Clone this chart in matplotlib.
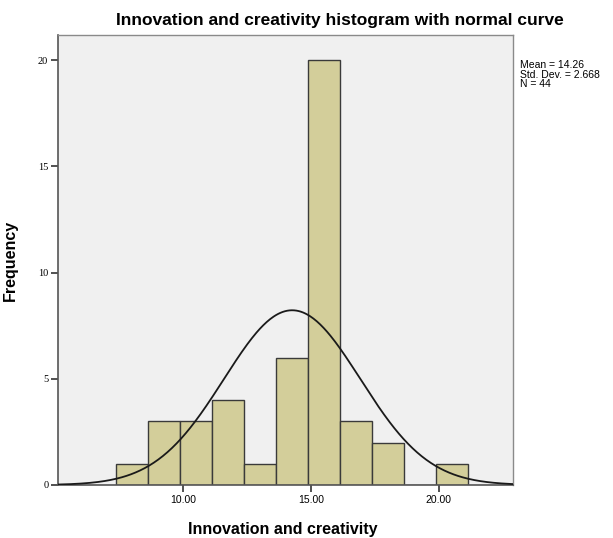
import numpy as np
import matplotlib
matplotlib.use("Agg")
import matplotlib.pyplot as plt

# Histogram bins (left edge of first bin and common width) and counts
bin_start = 7.375
bin_width = 1.25
counts = [1, 3, 3, 4, 1, 6, 20, 3, 2, 0, 1]

mean = 14.26
std_dev = 2.668
n_obs = 44

x_ticks = [10, 15, 20]
x_tick_labels = ["10.00", "15.00", "20.00"]
y_ticks = [0, 5, 10, 15, 20]

fig = plt.figure(figsize=(6.13, 5.38), dpi=100)
fig.patch.set_facecolor("white")
ax = fig.add_axes([58 / 613, 53 / 538, 455 / 613, 450 / 538])
ax.set_facecolor("#f0f0f0")

edges = bin_start + bin_width * np.arange(len(counts))
ax.bar(edges, counts, width=bin_width, align="edge",
       color="#d3ce9a", edgecolor="#3a3a3a", linewidth=1.0, zorder=2)

# Normal curve scaled to the histogram's counts
xs = np.linspace(5.1, 22.9, 400)
ys = n_obs * bin_width / (std_dev * np.sqrt(2 * np.pi)) * np.exp(-0.5 * ((xs - mean) / std_dev) ** 2)
ax.plot(xs, ys, color="#1a1a1a", linewidth=1.3, zorder=3)

ax.set_xlim(5.1, 22.9)
ax.set_ylim(0, 21.18)

ax.set_xticks(x_ticks)
ax.set_xticklabels(x_tick_labels, fontsize=7.5, family="Liberation Sans")
ax.set_yticks(y_ticks)
ax.set_yticklabels([str(v) for v in y_ticks], fontsize=7.5, family="Liberation Serif")
ax.tick_params(axis="both", direction="out", length=5, width=1.2, color="#333333", pad=2)

for side in ["top", "right"]:
    ax.spines[side].set_color("#8a8a8a")
    ax.spines[side].set_linewidth(1.0)
for side in ["left", "bottom"]:
    ax.spines[side].set_color("#555555")
    ax.spines[side].set_linewidth(1.2)

ax.set_xlabel("Innovation and creativity", fontsize=11.5, fontweight="bold",
              family="Liberation Sans")
ax.xaxis.set_label_coords(0.495, -0.083)
ax.set_ylabel("Frequency", fontsize=11.5, fontweight="bold",
              family="Liberation Sans")
ax.yaxis.set_label_coords(-0.088, 0.5)

fig.text(340 / 613, 1 - 21 / 538, "Innovation and creativity histogram with normal curve",
         ha="center", va="center", fontsize=12.5, fontweight="bold", family="Liberation Sans")

fig.text(520 / 613, 1 - 60 / 538,
         "Mean = %.2f\nStd. Dev. = %.3f\nN = %d" % (mean, std_dev, n_obs),
         ha="left", va="top", fontsize=7.5, family="Liberation Sans", linespacing=0.95)

fig.savefig("out.png", dpi=100)
